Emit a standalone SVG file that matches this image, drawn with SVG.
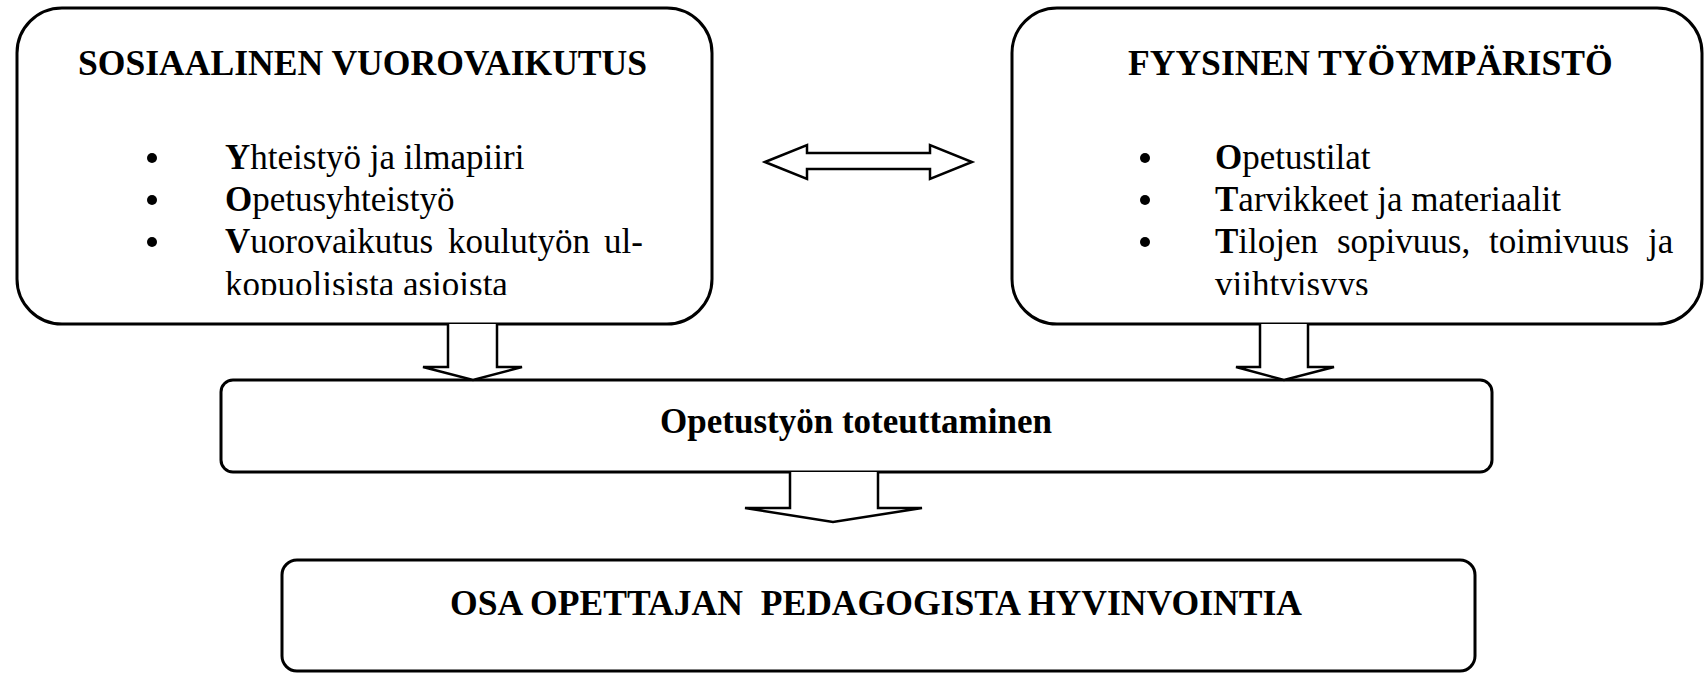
<svg xmlns="http://www.w3.org/2000/svg" width="1704" height="673" viewBox="0 0 1704 673">
<style>
.box{fill:#fff;stroke:#000;stroke-width:3}
.arr{fill:#fff;stroke:#000;stroke-width:2.5;stroke-linejoin:miter}
.t{font-family:"Liberation Serif","Times New Roman",serif;font-size:35px;fill:#000}
.b{font-weight:bold}
.h{font-size:35.6px}
.dot{fill:#000}
</style>
<defs>
<clipPath id="clipL"><rect x="0" y="0" width="1704" height="295"/></clipPath>
</defs>
<rect width="1704" height="673" fill="#fff"/>

<g id="node-social">
<rect class="box" x="17" y="8" width="695" height="316" rx="45" ry="45"/>
<text class="t b h" x="78" y="75">SOSIAALINEN VUOROVAIKUTUS</text>
<circle class="dot" cx="152" cy="158" r="5"/>
<circle class="dot" cx="152" cy="200" r="5"/>
<circle class="dot" cx="152" cy="242" r="5"/>
<text class="t" x="225" y="169"><tspan class="b">Y</tspan>hteistyö ja ilmapiiri</text>
<text class="t" x="225" y="211"><tspan class="b">O</tspan>petusyhteistyö</text>
<text class="t" y="253"><tspan x="225" class="b">V</tspan><tspan>uorovaikutus</tspan><tspan x="448">koulutyön</tspan><tspan x="604">ul-</tspan></text>
<text class="t" x="225" y="296" clip-path="url(#clipL)">kopuolisista asioista</text>
</g>

<g id="node-physical">
<rect class="box" x="1012" y="8" width="690" height="316" rx="45" ry="45"/>
<text class="t b h" x="1128" y="75">FYYSINEN TYÖYMPÄRISTÖ</text>
<circle class="dot" cx="1145" cy="158" r="5"/>
<circle class="dot" cx="1145" cy="200" r="5"/>
<circle class="dot" cx="1145" cy="242" r="5"/>
<text class="t" x="1215" y="169"><tspan class="b">O</tspan>petustilat</text>
<text class="t" x="1215" y="211"><tspan class="b">T</tspan>arvikkeet ja materiaalit</text>
<text class="t" y="253"><tspan x="1215" class="b">T</tspan><tspan>ilojen</tspan><tspan x="1337">sopivuus,</tspan><tspan x="1489">toimivuus</tspan><tspan x="1648">ja</tspan></text>
<text class="t" x="1215" y="296" clip-path="url(#clipL)">viihtyisyys</text>
</g>

<g id="node-implementation">
<rect class="box" x="221" y="380" width="1271" height="92" rx="12" ry="12"/>
<text class="t b" x="856" y="433" text-anchor="middle">Opetustyön toteuttaminen</text>
</g>

<g id="node-wellbeing">
<rect class="box" x="282" y="560" width="1193" height="111" rx="15" ry="15"/>
<text class="t b h" x="876" y="615" text-anchor="middle" xml:space="preserve">OSA OPETTAJAN  PEDAGOGISTA HYVINVOINTIA</text>
</g>

<g id="connectors">
<path class="arr" d="M765,162 L807,145 L807,153 L930,153 L930,145 L972,162 L930,179 L930,169 L807,169 L807,179 Z"/>
<path class="arr" d="M448,324 L448,367 L423,367 L473,380 L522,367 L497,367 L497,324"/>
<path class="arr" d="M1260,324 L1260,367 L1236,367 L1284,380 L1334,367 L1308,367 L1308,324"/>
<path class="arr" d="M790,472 L790,508 L745,508 L833,522 L922,508 L878,508 L878,472"/>
</g>
</svg>
